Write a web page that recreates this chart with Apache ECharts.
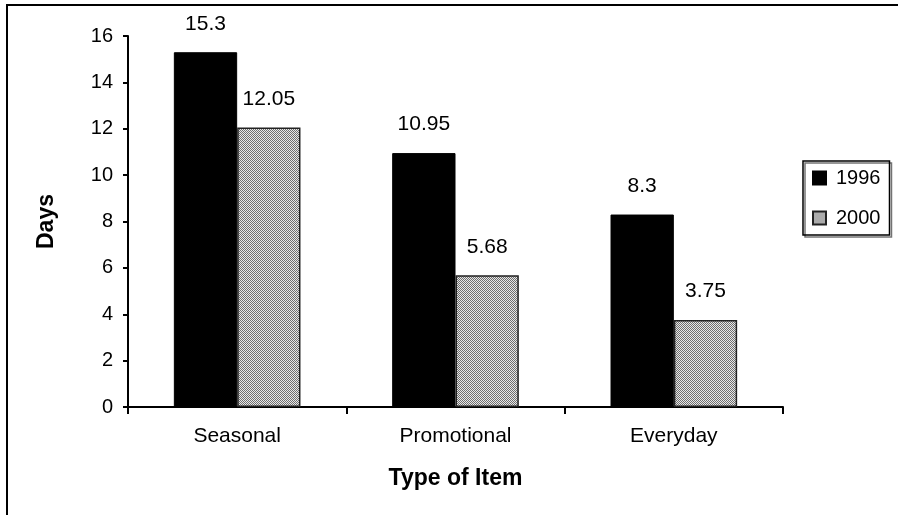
<!DOCTYPE html>
<html>
<head>
<meta charset="utf-8">
<script src="https://cdn.jsdelivr.net/npm/echarts@6/dist/echarts.min.js"></script>
<style>
  html, body { margin: 0; padding: 0; background: #fff; }
  #chart { width: 898px; height: 515px; }
</style>
</head>
<body>
<div id="chart"></div>
<script>
// Average days, by item type
const categories = ['Seasonal', 'Promotional', 'Everyday'];
const days1996 = [15.3, 10.95, 8.3];
const days2000 = [12.05, 5.68, 3.75];
const seriesNames = ['1996', '2000'];

// Dithered grey fill for the 2000 bars
function ditherPattern() {
  const c = document.createElement('canvas');
  c.width = 4; c.height = 4;
  const ctx = c.getContext('2d');
  ctx.fillStyle = '#e8e8e8';
  ctx.fillRect(0, 0, 4, 4);
  ctx.fillStyle = '#6e6e6e';
  const dots = [[0,0],[2,0],[1,1],[3,1],[0,2],[2,2],[1,3],[3,3]];
  dots.forEach(([x, y]) => ctx.fillRect(x, y, 1, 1));
  return c;
}

const font = '"Liberation Sans", Arial, sans-serif';
const chart = echarts.init(document.getElementById('chart'), null, { renderer: 'canvas' });

chart.setOption({
  animation: false,
  backgroundColor: '#fff',
  textStyle: { fontFamily: font, color: '#000' },
  graphic: [{
    type: 'polyline',
    shape: { points: [[7, 560], [7, 5], [960, 5]] },
    style: { stroke: '#000', lineWidth: 2, fill: null }
  }],
  grid: { left: 128, right: 115, top: 36, bottom: 108 },
  legend: {
    orient: 'vertical',
    left: 803,
    top: 161,
    padding: [7, 9, 7, 9],
    itemGap: 20,
    itemWidth: 13,
    itemHeight: 13,
    borderColor: '#000',
    borderWidth: 1.5,
    shadowColor: 'rgba(0,0,0,0.55)',
    shadowOffsetX: 2,
    shadowOffsetY: 2,
    icon: 'rect',
    textStyle: { fontFamily: font, fontSize: 20, color: '#000', padding: [0, 0, 0, 5] },
    data: seriesNames
  },
  xAxis: {
    type: 'category',
    data: categories,
    name: 'Type of Item',
    nameLocation: 'middle',
    nameGap: 60,
    nameTextStyle: { fontFamily: font, fontSize: 23, fontWeight: 'bold', color: '#000' },
    axisLine: { lineStyle: { color: '#000', width: 2 } },
    axisTick: { show: true, length: 7, lineStyle: { color: '#000', width: 2 } },
    axisLabel: { fontFamily: font, fontSize: 21, color: '#000', margin: 19 }
  },
  yAxis: {
    type: 'value',
    min: 0,
    max: 16,
    interval: 2,
    name: 'Days',
    nameLocation: 'middle',
    nameGap: 70,
    nameTextStyle: { fontFamily: font, fontSize: 23, fontWeight: 'bold', color: '#000' },
    axisLine: { show: true, lineStyle: { color: '#000', width: 2 } },
    axisTick: { show: true, length: 5, lineStyle: { color: '#000', width: 2 } },
    axisLabel: { fontFamily: font, fontSize: 20, color: '#000', margin: 15 },
    splitLine: { show: false }
  },
  series: [
    {
      name: seriesNames[0],
      type: 'bar',
      data: days1996,
      barGap: '0%',
      barCategoryGap: '42%',
      itemStyle: { color: '#000', borderColor: '#000', borderWidth: 1 },
      label: { show: true, position: 'top', distance: 18, fontFamily: font, fontSize: 21, color: '#000' }
    },
    {
      name: seriesNames[1],
      type: 'bar',
      data: days2000,
      itemStyle: {
        color: { image: ditherPattern(), repeat: 'repeat' },
        borderColor: '#222',
        borderWidth: 1.5
      },
      label: { show: true, position: 'top', distance: 18, fontFamily: font, fontSize: 21, color: '#000' }
    }
  ]
});
</script>
</body>
</html>
